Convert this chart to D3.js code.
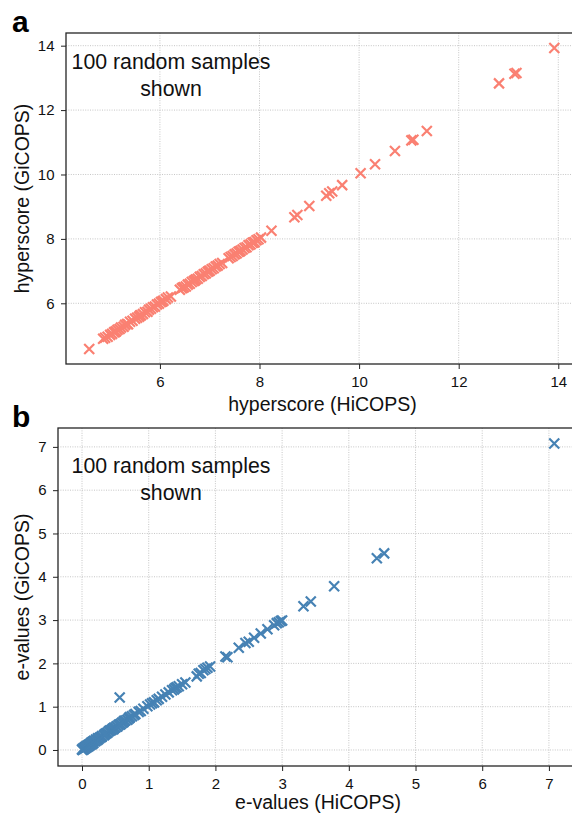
<!DOCTYPE html>
<html>
<head>
<meta charset="utf-8">
<script src="https://cdn.jsdelivr.net/npm/d3@7"></script>
<style>
  html, body { margin: 0; padding: 0; background: #fff; }
  svg { display: block; font-family: "Liberation Sans", Arial, sans-serif; }
</style>
</head>
<body>
<svg id="chart" width="572" height="813"></svg>
<script>
// ---- Panel a: hyperscores ----
const hyperHiCOPS = [4.58,4.86,4.90,4.95,5.00,5.04,5.08,5.12,5.15,5.19,5.22,5.27,5.30,5.36,5.40,5.45,5.50,5.54,5.58,5.62,
  5.66,5.70,5.75,5.78,5.82,5.86,5.90,5.94,5.98,6.02,6.07,6.12,6.16,6.22,6.40,6.44,6.48,6.52,6.56,6.60,
  6.64,6.68,6.72,6.76,6.80,6.84,6.88,6.92,6.96,7.00,7.04,7.08,7.12,7.16,7.20,7.25,7.38,7.42,7.46,7.50,
  7.54,7.58,7.62,7.66,7.70,7.74,7.78,7.82,7.86,7.90,7.94,7.98,8.03,8.24,8.70,8.76,9.00,9.34,9.40,9.46,
  9.66,10.03,10.32,10.72,11.05,11.09,11.36,12.81,13.12,13.16,13.92,5.10,5.60,6.05,6.46,6.70,6.98,7.60,7.88,5.34];
const hyperGiCOPS = [4.58,4.90,4.93,4.96,5.02,5.05,5.10,5.13,5.18,5.20,5.25,5.27,5.33,5.35,5.43,5.46,5.52,5.55,5.58,5.63,
  5.67,5.72,5.74,5.80,5.83,5.88,5.90,5.96,5.99,6.04,6.08,6.13,6.18,6.21,6.42,6.47,6.50,6.52,6.58,6.61,
  6.66,6.69,6.74,6.76,6.82,6.85,6.90,6.93,6.98,7.01,7.06,7.09,7.14,7.17,7.22,7.25,7.40,7.44,7.47,7.52,
  7.55,7.60,7.63,7.67,7.72,7.74,7.80,7.83,7.88,7.90,7.96,7.99,8.04,8.25,8.67,8.74,9.02,9.34,9.42,9.47,
  9.67,10.04,10.32,10.73,11.06,11.08,11.35,12.83,13.13,13.15,13.93,5.11,5.62,6.06,6.48,6.71,7.00,7.61,7.89,5.36];
const hyperTicks = [6, 8, 10, 12, 14];

// ---- Panel b: e-values ----
const evalHiCOPS = [0.00,0.01,0.02,0.03,0.04,0.05,0.06,0.07,0.08,0.09,0.10,0.11,0.12,0.13,0.14,0.15,0.16,0.17,0.18,0.20,
  0.21,0.23,0.24,0.25,0.27,0.29,0.30,0.33,0.36,0.38,0.40,0.42,0.44,0.46,0.47,0.48,0.50,0.52,0.53,0.55,
  0.58,0.60,0.62,0.63,0.65,0.68,0.70,0.71,0.72,0.75,0.78,0.80,0.85,0.88,0.92,0.98,1.02,1.05,1.08,1.12,
  1.15,1.20,1.25,1.30,1.35,1.38,1.40,1.42,1.45,1.50,1.55,1.72,1.75,1.78,1.82,1.85,1.88,1.92,2.15,2.18,
  2.35,2.45,2.50,2.58,2.68,2.78,2.88,2.92,2.95,2.98,3.00,3.32,3.43,3.78,4.42,4.53,7.08,0.565,0.34,0.57];
const evalGiCOPS = [0.01,0.00,0.04,0.02,0.06,0.04,0.08,0.06,0.10,0.08,0.12,0.10,0.14,0.12,0.17,0.14,0.19,0.16,0.21,0.20,
  0.24,0.23,0.27,0.26,0.29,0.30,0.32,0.34,0.38,0.40,0.43,0.45,0.46,0.49,0.48,0.51,0.52,0.55,0.54,0.58,
  0.60,0.63,0.64,0.67,0.68,0.70,0.73,0.74,0.76,0.78,0.81,0.83,0.88,0.90,0.95,1.01,1.05,1.08,1.10,1.15,
  1.18,1.23,1.28,1.33,1.38,1.40,1.43,1.45,1.47,1.52,1.56,1.70,1.76,1.78,1.84,1.87,1.90,1.93,2.16,2.14,
  2.36,2.47,2.50,2.59,2.69,2.79,2.88,2.93,2.95,2.98,2.99,3.32,3.43,3.78,4.43,4.54,7.08,1.21,0.36,0.59];
const evalTicks = [0, 1, 2, 3, 4, 5, 6, 7];

const svg = d3.select("#chart");
const FONT = "'Liberation Sans', Arial, sans-serif";

function panel(cfg) {
  const x = d3.scaleLinear().domain(cfg.xDomain).range([cfg.left, cfg.right]);
  const y = d3.scaleLinear().domain(cfg.yDomain).range([cfg.bottom, cfg.top]);
  const g = svg.append("g");

  // grid
  const grid = g.append("g").attr("stroke", "#b8b8b8").attr("stroke-width", 0.8)
    .attr("stroke-dasharray", "1,1.4");
  grid.selectAll(".gx").data(cfg.ticks).join("line")
    .attr("x1", d => x(d)).attr("x2", d => x(d))
    .attr("y1", cfg.top).attr("y2", cfg.bottom);
  grid.selectAll(".gy").data(cfg.ticks).join("line")
    .attr("y1", d => y(d)).attr("y2", d => y(d))
    .attr("x1", cfg.left).attr("x2", cfg.right);

  // points
  const pts = cfg.xs.map((v, i) => [v, cfg.ys[i]]);
  const s = 5;
  g.append("g").selectAll("path").data(pts).join("path")
    .attr("d", d => {
      const px = x(d[0]), py = y(d[1]);
      return `M${px - s},${py - s}L${px + s},${py + s}M${px - s},${py + s}L${px + s},${py - s}`;
    })
    .attr("stroke", cfg.color).attr("stroke-width", 2.2).attr("fill", "none");

  // axes
  const ax = g.append("g").attr("transform", `translate(0,${cfg.bottom})`)
    .call(d3.axisBottom(x).tickValues(cfg.ticks).tickFormat(d3.format("d")).tickSize(5).tickPadding(7));
  const ay = g.append("g").attr("transform", `translate(${cfg.left},0)`)
    .call(d3.axisLeft(y).tickValues(cfg.ticks).tickFormat(d3.format("d")).tickSize(5).tickPadding(6.5));
  [ax, ay].forEach(a => {
    a.select(".domain").remove();
    a.selectAll("line").attr("stroke", "#222").attr("stroke-width", 1);
    a.selectAll("text").attr("font-size", 15).attr("fill", "#111").attr("font-family", FONT);
  });

  // spines
  g.append("rect").attr("x", cfg.left).attr("y", cfg.top)
    .attr("width", cfg.right - cfg.left).attr("height", cfg.bottom - cfg.top)
    .attr("fill", "none").attr("stroke", "#262626").attr("stroke-width", 1.3);

  // axis labels
  g.append("text").attr("x", (cfg.left + cfg.right) / 2).attr("y", cfg.xLabelY)
    .attr("text-anchor", "middle").attr("font-size", 19.5).attr("fill", "#111")
    .text(cfg.xLabel);
  g.append("text").attr("transform", `translate(28.5,${(cfg.top + cfg.bottom) / 2}) rotate(-90)`)
    .attr("text-anchor", "middle").attr("font-size", 19.5).attr("fill", "#111")
    .text(cfg.yLabel);

  // annotation
  const ann = g.append("text").attr("text-anchor", "middle").attr("font-size", 21.3).attr("fill", "#111");
  ann.append("tspan").attr("x", 171).attr("y", cfg.annY).text("100 random samples");
  ann.append("tspan").attr("x", 171).attr("y", cfg.annY + 27).text("shown");

  // panel letter
  g.append("text").attr("x", 12).attr("y", cfg.letterY).attr("font-size", 30)
    .attr("font-weight", "bold").attr("fill", "#000").text(cfg.letter);
}

panel({
  xs: hyperHiCOPS, ys: hyperGiCOPS, ticks: hyperTicks, color: "#FA8072",
  xDomain: [4.114, 14.416], yDomain: [4.115, 14.394],
  left: 66, right: 579, top: 33, bottom: 364,
  xLabel: "hyperscore (HiCOPS)", yLabel: "hyperscore (GiCOPS)",
  xLabelY: 411, annY: 69, letter: "a", letterY: 32
});

panel({
  xs: evalHiCOPS, ys: evalGiCOPS, ticks: evalTicks, color: "#4682B4",
  xDomain: [-0.36, 7.436], yDomain: [-0.37, 7.436],
  left: 58, right: 578, top: 428, bottom: 766,
  xLabel: "e-values (HiCOPS)", yLabel: "e-values (GiCOPS)",
  xLabelY: 809, annY: 473, letter: "b", letterY: 427
});
</script>
</body>
</html>
